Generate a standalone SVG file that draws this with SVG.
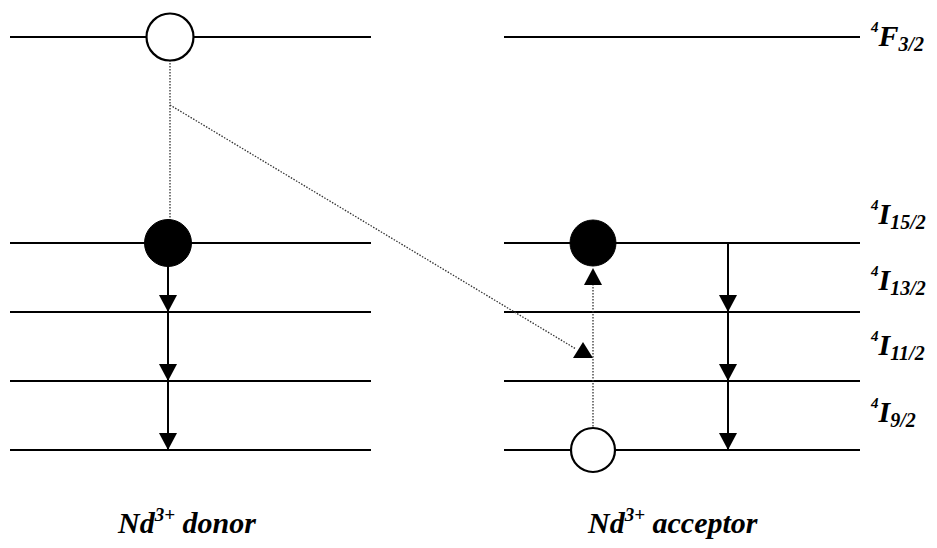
<svg xmlns="http://www.w3.org/2000/svg" width="937" height="548" viewBox="0 0 937 548">
<style>
.lvl{stroke:#000;stroke-width:1.8;fill:none}
.dot{stroke:#333;stroke-width:1.3;stroke-dasharray:1.5 1.5;fill:none}
.sol{stroke:#000;stroke-width:2;fill:none}
.head{fill:#000}
.open{fill:#fff;stroke:#000;stroke-width:2.2}
.full{fill:#000;stroke:#000;stroke-width:1}
.lab{font-family:"Liberation Serif","Times New Roman",serif;font-weight:bold;font-style:italic;fill:#000}
</style>
<rect width="937" height="548" fill="#fff"/>
<g id="levels">
<line class="lvl" x1="10" y1="37" x2="371" y2="37"/>
<line class="lvl" x1="10" y1="243" x2="371" y2="243"/>
<line class="lvl" x1="10" y1="312" x2="371" y2="312"/>
<line class="lvl" x1="10" y1="381" x2="371" y2="381"/>
<line class="lvl" x1="10" y1="450" x2="371" y2="450"/>
<line class="lvl" x1="504" y1="37" x2="860" y2="37"/>
<line class="lvl" x1="504" y1="243" x2="860" y2="243"/>
<line class="lvl" x1="504" y1="312" x2="860" y2="312"/>
<line class="lvl" x1="504" y1="381" x2="860" y2="381"/>
<line class="lvl" x1="504" y1="450" x2="860" y2="450"/>
</g>
<g id="connectors">
<line class="dot" x1="170" y1="60" x2="170" y2="220"/>
<line class="dot" x1="170" y1="105" x2="576" y2="349"/>
<polygon class="head" points="583,342 573,358 593,358"/>
<line class="dot" x1="593" y1="284" x2="593" y2="428"/>
<polygon class="head" points="593,268 584,285 602,285"/>
<line class="sol" x1="168" y1="266" x2="168" y2="450"/>
<polygon class="head" points="168,312 159,295 177,295"/>
<polygon class="head" points="168,381 159,364 177,364"/>
<polygon class="head" points="168,450 159,433 177,433"/>
<line class="sol" x1="728" y1="243" x2="728" y2="450"/>
<polygon class="head" points="728,312 719,295 737,295"/>
<polygon class="head" points="728,381 719,364 737,364"/>
<polygon class="head" points="728,450 719,433 737,433"/>
</g>
<g id="donor-upper"><circle class="open" cx="170" cy="37" r="23.5"/></g>
<g id="donor-lower"><circle class="full" cx="168" cy="243" r="23.5"/></g>
<g id="acceptor-upper"><circle class="full" cx="593" cy="243" r="23"/></g>
<g id="acceptor-lower"><circle class="open" cx="593" cy="450" r="22"/></g>
<g id="labels">
<text class="lab" x="871" y="46" font-size="30"><tspan font-size="15" dy="-14">4</tspan><tspan dy="14">F</tspan><tspan font-size="20" dy="5">3/2</tspan></text>
<text class="lab" x="871" y="224" font-size="30"><tspan font-size="15" dy="-14">4</tspan><tspan dy="14">I</tspan><tspan font-size="20" dy="5">15/2</tspan></text>
<text class="lab" x="871" y="290" font-size="30"><tspan font-size="15" dy="-14">4</tspan><tspan dy="14">I</tspan><tspan font-size="20" dy="5">13/2</tspan></text>
<text class="lab" x="871" y="355" font-size="30"><tspan font-size="15" dy="-14">4</tspan><tspan dy="14">I</tspan><tspan font-size="20" dy="5">11/2</tspan></text>
<text class="lab" x="871" y="422" font-size="30"><tspan font-size="15" dy="-14">4</tspan><tspan dy="14">I</tspan><tspan font-size="20" dy="5">9/2</tspan></text>
<text class="lab" x="118" y="533" font-size="30">Nd<tspan font-size="19" dy="-12">3+</tspan><tspan dy="12"> donor</tspan></text>
<text class="lab" x="588" y="533" font-size="30">Nd<tspan font-size="19" dy="-12">3+</tspan><tspan dy="12"> acceptor</tspan></text>
</g>
</svg>
